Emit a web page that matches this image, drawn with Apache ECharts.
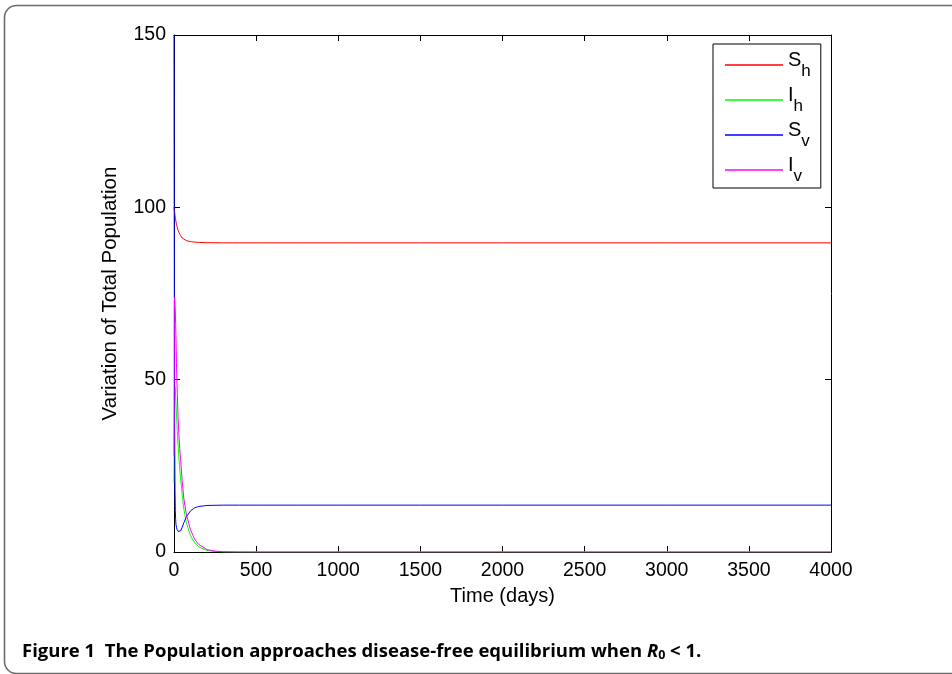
<!DOCTYPE html>
<html>
<head>
<meta charset="utf-8">
<script src="https://cdn.jsdelivr.net/npm/echarts@6/dist/echarts.min.js"></script>
<style>html,body{margin:0;padding:0;background:#fff}#c{width:952px;height:674px}</style>
</head>
<body>
<div id="c"></div>
<script>
// time (days)
var time = [0, 1, 2, 4, 6, 8, 10, 12, 15, 18, 20, 25, 30, 35, 40, 50, 60, 75, 100, 125, 150, 200, 250, 300, 400, 500, 750, 1000, 1500, 2000, 3000, 4000];
var Sh = [100, 99.6, 99.2, 98.4, 97.7, 97.0, 96.4, 95.8, 95.1, 94.5, 94.1, 93.3, 92.7, 92.2, 91.8, 91.1, 90.7, 90.35, 90.05, 89.9, 89.82, 89.75, 89.72, 89.7, 89.7, 89.7, 89.7, 89.7, 89.7, 89.7, 89.7, 89.7];
var Ih = [20, 30, 38, 46, 48, 47, 45, 43.5, 40, 37, 35, 31, 27, 24, 21.5, 16.5, 12.5, 8.5, 4.8, 2.7, 1.5, 0.45, 0.14, 0.04, 0, 0, 0, 0, 0, 0, 0, 0];
var Sv = [150, 110, 75, 35, 18, 12, 9.5, 8, 7.2, 6.6, 6.4, 6.0, 5.85, 5.8, 6.1, 7.2, 8.5, 10.2, 11.9, 12.8, 13.2, 13.5, 13.55, 13.6, 13.6, 13.6, 13.6, 13.6, 13.6, 13.6, 13.6, 13.6];
var Iv = [28, 55, 70, 74, 73.5, 70, 66, 62, 55, 49, 46, 39, 34, 30, 27, 20.5, 15.5, 11, 6.5, 3.8, 2.2, 0.7, 0.25, 0.08, 0.01, 0, 0, 0, 0, 0, 0, 0];
var xTicks = [0, 500, 1000, 1500, 2000, 2500, 3000, 3500, 4000];
var yTicks = [0, 50, 100, 150];
var seriesNames = ['S_h', 'I_h', 'S_v', 'I_v'];
var seriesColors = ['#ff0000', '#00ff00', '#0000ff', '#ff00ff'];

function pairs(vals) { return time.map(function (t, i) { return [t, vals[i]]; }); }
var allVals = [Sh, Ih, Sv, Iv];

var chart = echarts.init(document.getElementById('c'), null, { renderer: 'canvas' });
var font = 'Liberation Sans, Arial, Helvetica, sans-serif';
var capFont = 'Open Sans, Noto Sans, sans-serif';
var axisCommon = {
  type: 'value',
  axisLine: { show: true, onZero: false, lineStyle: { color: '#000', width: 1 } },
  axisTick: { show: true, inside: true, length: 6, lineStyle: { color: '#000' } },
  splitLine: { show: false }
};
var option = {
  animation: false,
  backgroundColor: '#fff',
  textStyle: { fontFamily: font },
  grid: { left: 174, right: 121, top: 35, bottom: 122, containLabel: false },
  xAxis: [
    Object.assign({}, axisCommon, {
      position: 'bottom', min: xTicks[0], max: xTicks[xTicks.length - 1], interval: 500,
      axisLabel: { color: '#000', fontSize: 19.5, fontFamily: font, margin: 9, formatter: function (v) { return String(v); } },
      name: 'Time (days)', nameLocation: 'middle', nameGap: 34,
      nameTextStyle: { color: '#000', fontSize: 20, fontFamily: font }
    }),
    Object.assign({}, axisCommon, {
      position: 'top', min: xTicks[0], max: xTicks[xTicks.length - 1], interval: 500,
      axisLabel: { show: false }
    })
  ],
  yAxis: [
    Object.assign({}, axisCommon, {
      position: 'left', min: yTicks[0], max: yTicks[yTicks.length - 1], interval: 50,
      axisLabel: { color: '#000', fontSize: 19.5, fontFamily: font, margin: 8, formatter: function (v) { return String(v); } },
      name: 'Variation of Total Population', nameLocation: 'middle', nameGap: 53,
      nameTextStyle: { color: '#000', fontSize: 20.5, fontFamily: font }
    }),
    Object.assign({}, axisCommon, {
      position: 'right', min: yTicks[0], max: yTicks[yTicks.length - 1], interval: 50,
      axisLabel: { show: false }
    })
  ],
  legend: {
    orient: 'vertical',
    left: 713, top: 44,
    width: 109,
    padding: [6, 10, 3, 12],
    borderColor: '#000', borderWidth: 1,
    backgroundColor: '#fff',
    icon: 'rect', itemWidth: 58, itemHeight: 1.5, itemGap: 5,
    data: seriesNames,
    formatter: function (n) { var p = n.split('_'); return '{m|' + p[0] + '}{s|' + p[1] + '}'; },
    textStyle: {
      color: '#000', fontFamily: font,
      rich: {
        m: { fontSize: 20, fontFamily: font, color: '#000', lineHeight: 30, verticalAlign: 'top', padding: [0, 0, 8, 0] },
        s: { fontSize: 17, fontFamily: font, color: '#000', lineHeight: 30, verticalAlign: 'bottom', padding: [9, 0, 0, 0] }
      }
    }
  },
  graphic: [
    { type: 'rect', shape: { x: 4.5, y: 5.5, width: 970, height: 668, r: 12 }, style: { fill: 'none', stroke: '#6b6b6b', lineWidth: 1.6 }, silent: true, z: -10 },
    { type: 'text', left: 22, top: 642,
      style: {
        text: '{b|Figure 1  The Population approaches disease-free equilibrium when }{i|R}{sub|0}{b| < 1.}',
        rich: {
          b: { fontFamily: capFont, fontWeight: 'bold', fontSize: 18.5, fill: '#000' },
          i: { fontFamily: capFont, fontWeight: 'bold', fontStyle: 'italic', fontSize: 18.5, fill: '#000' },
          sub: { fontFamily: capFont, fontWeight: 'bold', fontSize: 12.5, fill: '#000', padding: [8, 0, 0, 0] }
        }
      }
    }
  ],
  series: seriesNames.map(function (n, k) {
    return {
      name: n, type: 'line', xAxisIndex: 0, yAxisIndex: 0,
      data: pairs(allVals[k]), showSymbol: false, symbol: 'none',
      lineStyle: { color: seriesColors[k], width: 1 }, itemStyle: { color: seriesColors[k] },
      clip: true
    };
  })
};
chart.setOption(option);
</script>
</body>
</html>
